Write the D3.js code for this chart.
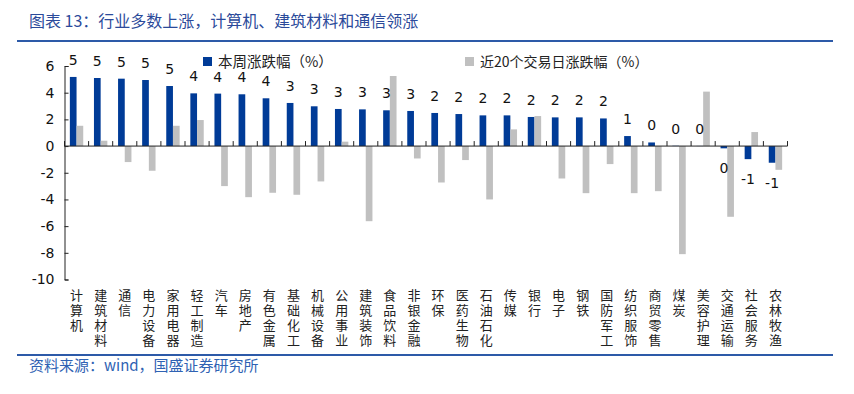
<!DOCTYPE html>
<html><head><meta charset="utf-8">
<script src="https://cdn.jsdelivr.net/npm/d3@7/dist/d3.min.js"></script>
<style>body{margin:0;background:#fff;}svg{display:block;}</style>
</head><body>
<svg id="c" width="854" height="394"></svg>
<script>
const categories = ["计算机","建筑材料","通信","电力设备","家用电器","轻工制造","汽车","房地产","有色金属","基础化工","机械设备","公用事业","建筑装饰","食品饮料","非银金融","环保","医药生物","石油石化","传媒","银行","电子","钢铁","国防军工","纺织服饰","商贸零售","煤炭","美容护理","交通运输","社会服务","农林牧渔"];
const weekChange = [5.18,5.10,5.05,4.95,4.50,3.95,3.93,3.88,3.58,3.23,2.98,2.78,2.75,2.68,2.63,2.48,2.40,2.30,2.30,2.18,2.15,2.15,2.07,0.75,0.27,0.02,0.01,-0.17,-0.98,-1.25];
const day20Change = [1.52,0.40,-1.20,-1.85,1.52,1.95,-3.00,-3.83,-3.50,-3.65,-2.65,0.33,-5.63,5.25,-0.93,-2.73,-1.05,-4.00,1.25,2.25,-2.43,-3.53,-1.35,-3.53,-3.38,-8.10,4.08,-5.30,1.05,-1.78];
const yTicks = [-10,-8,-6,-4,-2,0,2,4,6];
const seriesNames = ["本周涨跌幅（%）","近20个交易日涨跌幅（%）"];
const title = "图表 13：行业多数上涨，计算机、建筑材料和通信领涨";
const source = "资料来源：wind，国盛证券研究所";

const svg = d3.select("#c");
const cBlue = "#003b97", cGray = "#c0c0c0";
const cjk = "'Noto Sans CJK SC','Noto Sans',sans-serif";
const cjkTight = "'Liberation Sans','Noto Sans CJK SC',sans-serif";
const num = "'DejaVu Sans',Verdana,sans-serif";

// title & rules
svg.append("text").attr("x",29).attr("y",27).attr("font-family",cjk).attr("font-size",16)
  .attr("fill","#2b4a9a").text(title);
svg.append("line").attr("x1",17).attr("x2",833).attr("y1",41).attr("y2",41).attr("stroke","#2d5aa8").attr("stroke-width",2);
svg.append("line").attr("x1",17).attr("x2",833).attr("y1",355).attr("y2",355).attr("stroke","#2d5aa8").attr("stroke-width",2);
svg.append("text").attr("x",29).attr("y",371).attr("font-family",cjk).attr("font-size",15)
  .attr("fill","#2f62b3").text(source);

const x = d3.scaleBand().domain(categories).range([64.5,787.5]).paddingInner(0).paddingOuter(0);
const x1 = d3.scaleBand().domain([0,1]).range([0,x.bandwidth()]).paddingInner(0).paddingOuter(0.8);
const y = d3.scaleLinear().domain([-10,6]).range([279.5,66]);

// bars
const g = svg.append("g");
[weekChange, day20Change].forEach((vals,si)=>{
  g.selectAll(null).data(vals).enter().append("rect")
    .attr("x",(d,i)=>x(categories[i])+x1(si))
    .attr("width",x1.bandwidth())
    .attr("y",d=>y(Math.max(0,d)))
    .attr("height",d=>Math.abs(y(d)-y(0)))
    .attr("fill",si===0?cBlue:cGray);
});

// y axis
const yAxis = d3.axisLeft(y).tickValues(yTicks).tickSize(-4).tickPadding(10).tickFormat(d=>String(d));
const ya = svg.append("g").attr("transform","translate(64.5,0)").call(yAxis);
ya.select(".domain").attr("stroke","#222");
ya.selectAll(".tick line").attr("stroke","#222");
ya.selectAll("text").attr("font-family",num).attr("font-size",14).attr("fill","#111");

// zero axis with category ticks pointing up
const xa = svg.append("g").attr("transform",`translate(0,${y(0)})`);
xa.append("line").attr("x1",x.range()[0]).attr("x2",x.range()[1]).attr("stroke","#222");
const bounds = categories.map(c=>x(c)).concat([x.range()[1]]);
xa.selectAll(null).data(bounds).enter().append("line")
  .attr("x1",d=>d).attr("x2",d=>d).attr("y1",0).attr("y2",-5).attr("stroke","#222");

// value labels
svg.selectAll(null).data(weekChange).enter().append("text")
  .attr("x",(d,i)=>x(categories[i])+x1(0)+x1.bandwidth()/2)
  .attr("y",d=> d>=0 ? y(d)-12 : y(d)+25)
  .attr("text-anchor","middle").attr("font-family",num).attr("font-size",14).attr("fill","#111")
  .text(d=>{const r=Math.round(d); return String(r===0?0:r);});

// category labels (vertical stacked, one text per character)
categories.forEach(c=>{
  [...c].forEach((ch,k)=>{
    svg.append("text").attr("font-family",cjkTight).attr("font-size",13).attr("fill","#222")
      .attr("text-anchor","middle")
      .attr("x",x(c)+x.bandwidth()/2).attr("y",300+k*15).text(ch);
  });
});

// legend
const lg = svg.append("g");
lg.append("rect").attr("x",203).attr("y",57).attr("width",9).attr("height",9).attr("fill",cBlue);
lg.append("text").attr("x",218).attr("y",67).attr("font-family",cjk).attr("font-size",14.5).attr("fill","#222").text(seriesNames[0]);
lg.append("rect").attr("x",465).attr("y",57).attr("width",9).attr("height",9).attr("fill",cGray);
lg.append("text").attr("x",480).attr("y",67).attr("font-family",cjk).attr("font-size",14).attr("fill","#222").text(seriesNames[1]);
</script>
</body></html>
